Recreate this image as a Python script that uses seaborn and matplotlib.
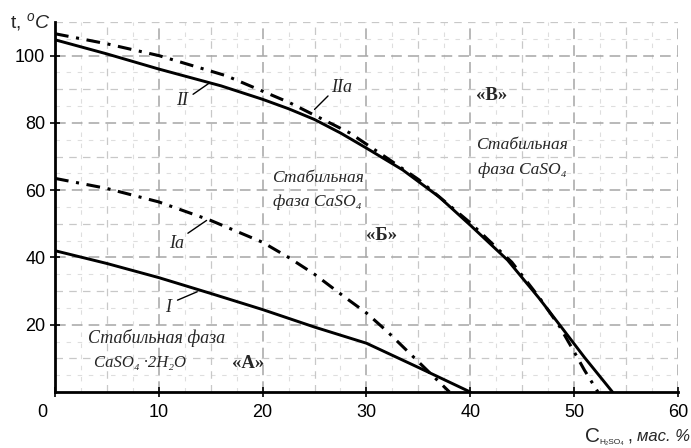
import matplotlib
matplotlib.use("Agg")
import matplotlib.pyplot as plt
import matplotlib.transforms as mtrans
import seaborn as sns
import numpy as np
import pandas as pd
from matplotlib.ticker import MultipleLocator

sns.set_style("white")
plt.rcParams['font.family'] = ['Liberation Sans', 'DejaVu Sans']
plt.rcParams['mathtext.fontset'] = 'custom'
plt.rcParams['mathtext.rm'] = 'Liberation Sans'
plt.rcParams['mathtext.it'] = 'Liberation Sans:italic'
plt.rcParams['mathtext.bf'] = 'Liberation Sans:bold'

# ---- data ----
conc_I = [0, 5, 10, 15, 20, 25, 30, 35, 40]
t_I = [42, 38.2, 34, 29.3, 24.5, 19.3, 14.5, 7.3, 0]

conc_Ia = [0, 5, 10, 15, 20, 22.5, 25, 28, 30, 32, 34, 36, 38]
t_Ia = [63.5, 60.5, 56.5, 51, 44.5, 40, 35, 28, 23.5, 18, 12, 6, 0]

conc_II = [0, 5, 10, 16, 20, 22.5, 25, 27.5, 30, 33.5, 37, 40, 43.6, 46.6, 48.6, 51, 53.7]
t_II = [104.7, 100.5, 96, 91, 87, 84.2, 81, 77, 72.5, 66, 58, 49.6, 39.2, 28, 20, 10.3, 0]

conc_IIa = [0, 5, 10, 16.5, 22.6, 28.4, 32, 35, 40, 44, 46.6, 48.6, 50, 51, 52.3]
t_IIa = [106.5, 103.5, 100, 94, 86, 77, 69.5, 63.2, 50.3, 38.6, 28.3, 19.5, 12, 6.5, 0]

x_ticks = [0, 10, 20, 30, 40, 50, 60]
y_ticks = [20, 40, 60, 80, 100]

fig = plt.figure(figsize=(6.91, 4.48), dpi=100)
ax = fig.add_axes([0.0796, 0.125, 0.9014, 0.826])

# graph-paper style grid
ax.set_xlim(0, 60)
ax.set_ylim(0, 110)
ax.xaxis.set_major_locator(MultipleLocator(10))
ax.yaxis.set_major_locator(MultipleLocator(20))
ax.xaxis.set_minor_locator(MultipleLocator(5))
ax.yaxis.set_minor_locator(MultipleLocator(10))
ax.grid(which='major', color='#a6a6a6', linestyle=(0, (7, 4)), linewidth=1.1)
ax.grid(which='minor', color='#c8c8c8', linestyle=(0, (6, 5)), linewidth=0.9)
for xv in np.arange(2.5, 60, 5):
    ax.axvline(xv, color='#dedede', linestyle=(0, (4, 6)), linewidth=0.8, zorder=0)
for yv in np.arange(5, 110, 10):
    ax.axhline(yv, color='#dedede', linestyle=(0, (4, 6)), linewidth=0.8, zorder=0)
ax.set_axisbelow(True)

df_I = pd.DataFrame({'c': conc_I, 't': t_I})
df_Ia = pd.DataFrame({'c': conc_Ia, 't': t_Ia})
df_II = pd.DataFrame({'c': conc_II, 't': t_II})
df_IIa = pd.DataFrame({'c': conc_IIa, 't': t_IIa})

sns.lineplot(data=df_I, x='c', y='t', ax=ax, color='black', linewidth=2.1, sort=False)
sns.lineplot(data=df_II, x='c', y='t', ax=ax, color='black', linewidth=2.1, sort=False)
sns.lineplot(data=df_Ia, x='c', y='t', ax=ax, color='black', linewidth=2.2, sort=False)
ax.lines[-1].set_dashes([4.5, 2.5, 1, 2.5])
sns.lineplot(data=df_IIa, x='c', y='t', ax=ax, color='black', linewidth=2.2, sort=False)
ax.lines[-1].set_dashes([4.5, 2.5, 1, 2.5])

ax.set_xticks(x_ticks)
ax.set_yticks(y_ticks)
ax.set_xlabel('')
ax.set_ylabel('')
ax.tick_params(axis='both', which='major', direction='inout', length=7, width=1.2,
               labelsize=13, colors='black', bottom=True, left=True)
ax.tick_params(axis='x', pad=5)
ax.tick_params(which='minor', length=0)
for s in ['top', 'right']:
    ax.spines[s].set_visible(False)
for s in ['left', 'bottom']:
    ax.spines[s].set_linewidth(2.0)
    ax.spines[s].set_color('black')

# shift the "0" label left of the axis as in the original
fig.canvas.draw()
lbl0 = ax.get_xticklabels()[0]
lbl0.set_transform(lbl0.get_transform() + mtrans.ScaledTranslation(-0.13, 0, fig.dpi_scale_trans))

# axis titles
fig.text(0.015, 0.951, r't, $^{o}\mathit{C}$', fontsize=14, ha='left', va='center')
fig.text(0.8466, 0.0246, 'C', fontsize=15, ha='left', va='center')
fig.text(0.868, 0.013, 'H₂SO₄', fontsize=6, ha='left', va='center')
fig.text(0.908, 0.0246, ',', fontsize=13, ha='left', va='center')
fig.text(0.998, 0.0246, 'мас. %', fontsize=12, style='italic', ha='right', va='center')

serif = ['Liberation Serif', 'DejaVu Serif']
def lab(x, y, s, size=12.5):
    ax.text(x, y, s, family=serif, style='italic', fontsize=size, ha='center', va='center')
def bold(x, y, s):
    ax.text(x, y, s, family=serif, weight='bold', fontsize=13.5, ha='center', va='center')

# curve labels with leader lines
lab(12.2, 86.6, 'II', 13)
ax.plot([13.3, 14.8], [88.5, 91.7], color='black', lw=1.0)
lab(27.6, 90.5, 'IIa', 13)
ax.plot([26.3, 25.0], [88.0, 84.0], color='black', lw=1.0)
lab(11.7, 44.2, 'Ia', 13)
ax.plot([12.8, 14.6], [47.2, 51.0], color='black', lw=1.0)
lab(10.9, 25.0, 'I', 13)
ax.plot([11.8, 13.7], [27.3, 29.8], color='black', lw=1.0)

# region labels
lab(25.3, 63.5, 'Стабильная')
lab(25.3, 56.4, 'фаза CaSO₄')
lab(45.0, 73.3, 'Стабильная')
lab(45.0, 65.9, 'фаза CaSO₄')
lab(9.8, 16.0, 'Стабильная фаза', 13)
lab(8.2, 8.6, 'CaSO₄ ·2H₂O', 12)
bold(18.6, 8.6, '«А»')
bold(31.5, 46.6, '«Б»')
bold(42.1, 88.1, '«В»')

fig.savefig('out.png', dpi=100)
